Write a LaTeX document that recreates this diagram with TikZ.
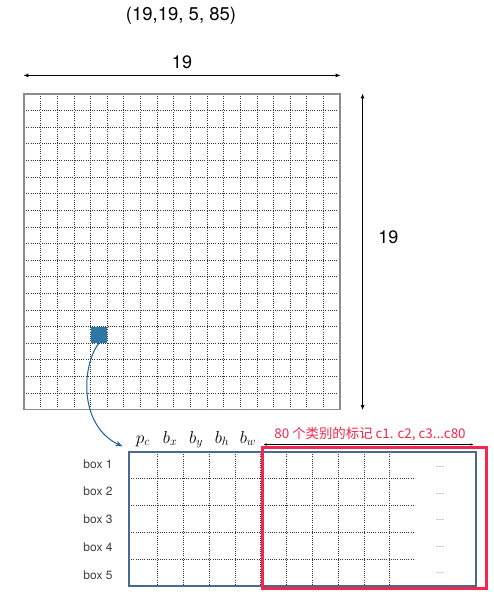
\documentclass[tikz,border=0pt]{standalone}
\usepackage{fontspec}
\setmainfont{TeX Gyre Heros}
\newfontfamily\cjkfont{Noto Sans CJK SC}
\usetikzlibrary{arrows.meta}
\definecolor{cellblue}{RGB}{46,117,168}
\definecolor{arrowblue}{RGB}{32,92,150}
\definecolor{tableblue}{RGB}{72,106,140}
\definecolor{classred}{RGB}{242,38,78}
\tikzstyle{cellline}=[dash pattern=on 0.8pt off 1.4pt, line width=0.65pt, black!80]
\tikzstyle{dimarrow}=[{Latex[length=5pt,width=4pt]}-{Latex[length=5pt,width=4pt]}, line width=0.9pt]
\tikzstyle{boxlabel}=[font=\fontsize{12}{14}\selectfont, text=black!75]
\tikzstyle{head}=[anchor=base, font=\fontsize{17.5}{19}\selectfont]
\tikzstyle{more}=[font=\fontsize{9}{10}\selectfont, text=black!55]
\newcommand{\boxlabel}{\node[boxlabel]}
\newcommand{\head}{\node[head]}

\begin{document}
\begin{tikzpicture}[x=1pt, y=-1pt]
\useasboundingbox (0,0) rectangle (494,608);
\node[font=\fontsize{18.5}{20}\selectfont] (T) at (181,16) {(19,19, 5, 85)};
% the 19 x 19 grid
\foreach \i in {1,...,18} {
  \draw[cellline] ({24+\i*316/19},94) -- ({24+\i*316/19},409.5);
  \draw[cellline] (24,{94+\i*315.5/19}) -- (340,{94+\i*315.5/19});
}
\node[draw=black!45, line width=1.2pt, inner sep=0pt, minimum width=316pt, minimum height=315.5pt] (G) at (182,251.75) {};
\draw[dimarrow] ([yshift=18pt]G.north west) -- ([yshift=18pt]G.north east)
  node[midway, above=3pt, font=\fontsize{18}{20}\selectfont] (W) {19};
\draw[dimarrow] ([xshift=22pt]G.north east) -- ([xshift=22pt]G.south east)
  node[pos=0.455, right=12pt, font=\fontsize{18}{20}\selectfont] (H) {19};
\node[fill=cellblue, inner sep=0pt, minimum size=16.6pt] (C) at (98.8,334.8) {};
% the 5 boxes
\foreach \k in {0,...,9}
  \draw[cellline] ({157.5+\k*25.8},452) -- ({157.5+\k*25.8},586);
\foreach \j in {1,...,4}
  \draw[cellline] (129,{452+\j*26.8}) -- (415,{452+\j*26.8});
\node[draw=tableblue, line width=1.2pt, inner sep=0pt, minimum width=347pt, minimum height=134pt] (B) at (302.5,519) {};
\draw[-{Stealth[length=7pt,width=5pt]}, arrowblue, line width=1pt] (C.south) .. controls (82,365) and (78,425) .. ([xshift=-6pt,yshift=5pt]B.north west);
\head (pc) at (143,443) {$p_c$};
\head (bx) at (170,443) {$b_x$};
\head (by) at (196,443) {$b_y$};
\head (bh) at (222,443) {$b_h$};
\head (bw) at (248,443) {$b_w$};
\foreach \k in {1,...,5} {
  \boxlabel (box\k) at (98,{464+27.7*(\k-1)}) {box \k};
  \node[more] (m\k) at (440,{467+26.6*(\k-1)}) {\dots};
}
% the 80 classes
\node[draw=classred, line width=3pt, inner sep=0pt, minimum width=224pt, minimum height=141pt] (R) at (374,517.5) {};
\draw[{Latex[length=3pt,width=2.5pt]}-{Latex[length=3pt,width=2.5pt]}, line width=0.5pt] ([xshift=3pt,yshift=1pt]R.north west) -- ([xshift=-14pt,yshift=1pt]R.north east);
\node[text=classred, font=\cjkfont\fontsize{13.4}{15}\selectfont] (L) at (370,434) {80 个类别的标记 c1. c2, c3...c80};
\end{tikzpicture}
\end{document}
